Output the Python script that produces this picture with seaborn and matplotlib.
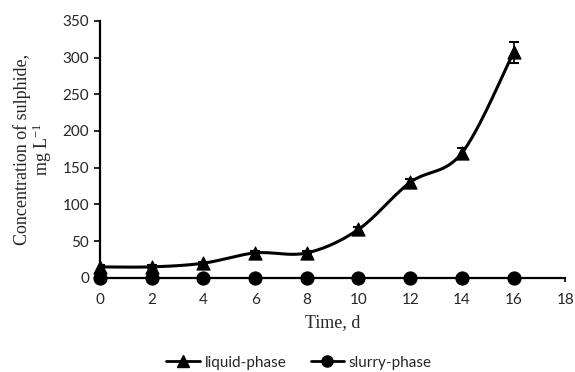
import numpy as np
import pandas as pd
import matplotlib
matplotlib.use("Agg")
import matplotlib.pyplot as plt
import seaborn as sns

days = [0, 2, 4, 6, 8, 10, 12, 14, 16]
liquid_phase = [15, 15, 20, 34, 34, 66, 130, 170, 307]
liquid_err = [2, 2, 2, 2, 2, 3, 5, 7, 14]
slurry_phase = [0, 0, 0, 0, 0, 0, 0, 0, 0]
slurry_err = [0, 0, 0, 0, 0, 0, 0, 0, 0]


def smooth_curve(x, y, n=30):
    # Excel-like smoothed line (Catmull-Rom through the points)
    x = np.asarray(x, float)
    y = np.asarray(y, float)
    px = np.concatenate([[x[0]], x, [x[-1]]])
    py = np.concatenate([[y[0]], y, [y[-1]]])
    xs, ys = [], []
    t = np.linspace(0, 1, n)
    for i in range(1, len(px) - 2):
        p0, p1, p2, p3 = [np.array([px[j], py[j]]) for j in (i - 1, i, i + 1, i + 2)]
        c1 = p1 + (p2 - p0) / 6
        c2 = p2 - (p3 - p1) / 6
        b = ((1 - t) ** 3)[:, None] * p1 + (3 * (1 - t) ** 2 * t)[:, None] * c1 \
            + (3 * (1 - t) * t ** 2)[:, None] * c2 + (t ** 3)[:, None] * p2
        xs.extend(b[:, 0])
        ys.extend(b[:, 1])
    return xs, ys


df = pd.DataFrame({"Time": days, "liquid-phase": liquid_phase,
                   "slurry-phase": slurry_phase})

sns.set_style("ticks")
plt.rcParams["font.family"] = ["Lato", "DejaVu Sans"]
plt.rcParams["mathtext.default"] = "regular"

fig = plt.figure(figsize=(5.75, 3.72), dpi=100)
ax = fig.add_axes([0.174, 0.253, 0.809, 0.691])

series = [("liquid-phase", liquid_err, "^"), ("slurry-phase", slurry_err, "o")]
handles = []
for name, err, mk in series:
    sx, sy = smooth_curve(df["Time"], df[name])
    ax.plot(sx, sy, color="black", lw=2.2, zorder=3)
    ax.errorbar(df["Time"], df[name], yerr=err, fmt="none", ecolor="black",
                elinewidth=1.2, capsize=3.5, capthick=1.5, zorder=4)
    sns.scatterplot(data=df, x="Time", y=name, marker=mk, s=90, color="black",
                    edgecolor="black", ax=ax, zorder=5, clip_on=False, legend=False)
    h, = ax.plot([], [], color="black", lw=2, marker=mk, markersize=8, label=name)
    handles.append(h)

ax.set_xlim(0, 18)
ax.set_ylim(0, 350)
ax.set_xticks(range(0, 19, 2))
ax.set_yticks(range(0, 351, 50))
ax.tick_params(axis="both", labelsize=11, width=1.2, color="black")
ax.tick_params(axis="x", length=3, pad=8)
ax.tick_params(axis="y", length=4, pad=4)
for s in ["top", "right"]:
    ax.spines[s].set_visible(False)
for s in ["left", "bottom"]:
    ax.spines[s].set_linewidth(1.6)
    ax.spines[s].set_color("black")

ax.set_xlabel("Time, d", family="Liberation Serif", fontsize=13, labelpad=5)
ax.set_ylabel("Concentration of sulphide,\nmg L$^{-1}$", family="Liberation Serif",
              fontsize=13, labelpad=6, linespacing=1.0)

fig.legend(handles=handles, loc="center", bbox_to_anchor=(0.52, 0.025), ncol=2,
           frameon=False, fontsize=11, handlelength=2.2, handletextpad=0.3,
           columnspacing=1.6, borderpad=0)

fig.savefig("out.png", dpi=100)
